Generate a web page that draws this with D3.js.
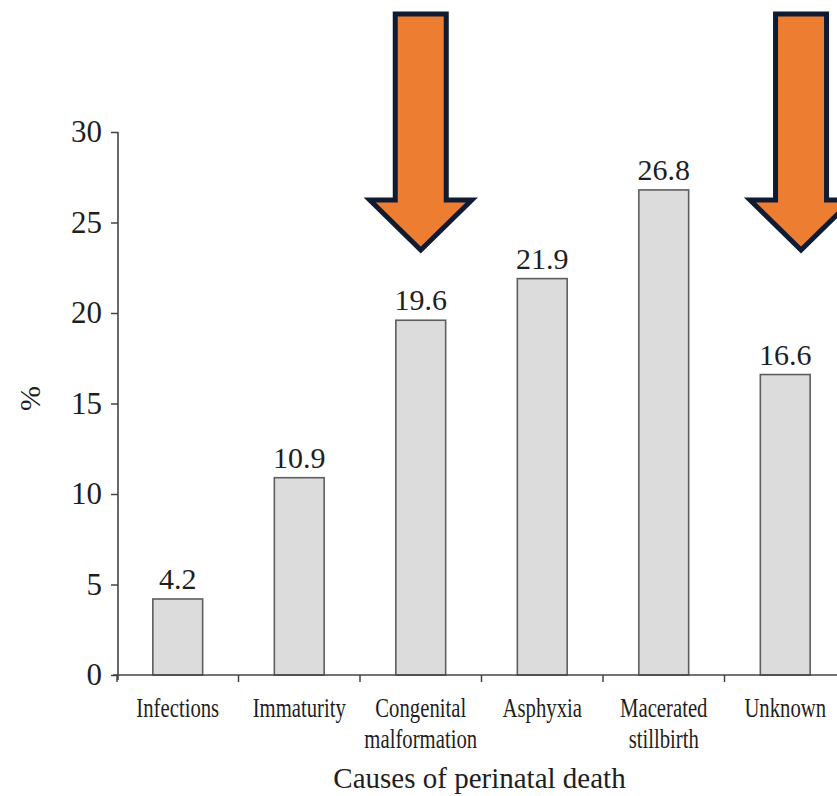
<!DOCTYPE html>
<html>
<head>
<meta charset="utf-8">
<script src="https://cdn.jsdelivr.net/npm/d3@7"></script>
<style>
  html, body { margin: 0; padding: 0; background: #fff; }
  svg { display: block; }
  text { font-family: "Liberation Serif", "Times New Roman", serif; fill: #1e1e1e; }
</style>
</head>
<body>
<svg id="chart" width="837" height="796"></svg>
<script>
// Causes of perinatal death (%)
const categories = ["Infections", "Immaturity", "Congenital malformation", "Asphyxia", "Macerated stillbirth", "Unknown"];
const categoryLines = [["Infections"], ["Immaturity"], ["Congenital", "malformation"], ["Asphyxia"], ["Macerated", "stillbirth"], ["Unknown"]];
const percentages = [4.2, 10.9, 19.6, 21.9, 26.8, 16.6];
const yTicks = [0, 5, 10, 15, 20, 25, 30];
const highlighted = ["Congenital malformation", "Unknown"];

const svg = d3.select("#chart");
const W = 837, H = 796;
const left = 117, step = 121.5;
const yTop = 132, yBottom = 675;

const x = d3.scaleBand().domain(categories).range([left, left + step * categories.length]).padding(0);
const y = d3.scaleLinear().domain([0, 30]).range([yBottom, yTop]);
const barW = x.bandwidth() * 0.41;

const g = svg.append("g");

// bars
g.selectAll("rect.bar").data(categories).join("rect")
  .attr("class", "bar")
  .attr("x", d => x(d) + (x.bandwidth() - barW) / 2)
  .attr("y", (d, i) => y(percentages[i]))
  .attr("width", barW)
  .attr("height", (d, i) => y(0) - y(percentages[i]))
  .attr("fill", "#dcdcdc")
  .attr("stroke", "#5e5e5e")
  .attr("stroke-width", 1.6);

// value labels
g.selectAll("text.val").data(categories).join("text")
  .attr("class", "val")
  .attr("x", d => x(d) + x.bandwidth() / 2)
  .attr("y", (d, i) => y(percentages[i]) - 10)
  .attr("text-anchor", "middle")
  .attr("font-size", 30)
  .text((d, i) => percentages[i].toFixed(1));

// y axis
const yAxis = d3.axisLeft(y).tickValues(yTicks).tickSize(7).tickPadding(9).tickFormat(d3.format("d"));
const ya = g.append("g").attr("transform", `translate(${left + 1},0)`).call(yAxis);
ya.select(".domain").attr("stroke", "#444").attr("stroke-width", 1.6).attr("d", `M0,${yTop}V${yBottom + 5}`);
ya.selectAll(".tick line").attr("stroke", "#444").attr("stroke-width", 1.5);
ya.selectAll(".tick text").attr("font-size", 31).attr("font-family", "Liberation Serif, serif").attr("fill", "#1e1e1e");

// x axis baseline and boundary ticks
const bounds = d3.range(categories.length + 1).map(i => left + i * step);
g.append("line")
  .attr("x1", left - 4).attr("x2", W + 10)
  .attr("y1", y(0)).attr("y2", y(0))
  .attr("stroke", "#444").attr("stroke-width", 1.6);
g.selectAll("line.xt").data(bounds).join("line")
  .attr("class", "xt")
  .attr("x1", d => d).attr("x2", d => d)
  .attr("y1", y(0)).attr("y2", y(0) + 7)
  .attr("stroke", "#444").attr("stroke-width", 1.5);

// category labels (condensed serif)
const catG = g.selectAll("g.cat").data(categories).join("g")
  .attr("class", "cat")
  .attr("transform", d => `translate(${x(d) + x.bandwidth() / 2},0)`);
catG.each(function(d, i) {
  const lines = categoryLines[i];
  lines.forEach((ln, j) => {
    d3.select(this).append("text")
      .attr("transform", `translate(0,${717 + j * 31}) scale(0.74,1)`)
      .attr("text-anchor", "middle")
      .attr("font-size", 28)
      .text(ln);
  });
});

// axis titles
g.append("text")
  .attr("x", left + step * 3 - 2)
  .attr("y", 788)
  .attr("text-anchor", "middle")
  .attr("font-size", 29)
  .text("Causes of perinatal death");

g.append("text")
  .attr("transform", `translate(40,${(yTop + yBottom) / 2 - 5}) rotate(-90)`)
  .attr("text-anchor", "middle")
  .attr("font-size", 30)
  .text("%");

// highlight arrows pointing at selected causes
const arrowTop = 14, shaftEnd = 200, tipY = 250, shaftHalf = 25.5, headHalf = 51;
const arrowOffset = { "Congenital malformation": 0, "Unknown": 0.13 };
const arrowPath = cx => {
  const p = d3.path();
  p.moveTo(cx - shaftHalf, arrowTop);
  p.lineTo(cx + shaftHalf, arrowTop);
  p.lineTo(cx + shaftHalf, shaftEnd);
  p.lineTo(cx + headHalf, shaftEnd);
  p.lineTo(cx, tipY);
  p.lineTo(cx - headHalf, shaftEnd);
  p.lineTo(cx - shaftHalf, shaftEnd);
  p.closePath();
  return p.toString();
};
svg.selectAll("path.arrow").data(highlighted).join("path")
  .attr("class", "arrow")
  .attr("d", d => arrowPath(x(d) + x.bandwidth() * (0.5 + arrowOffset[d])))
  .attr("fill", "#ED7D31")
  .attr("stroke", "#0f1b33")
  .attr("stroke-width", 5)
  .attr("stroke-linejoin", "miter");
</script>
</body>
</html>
